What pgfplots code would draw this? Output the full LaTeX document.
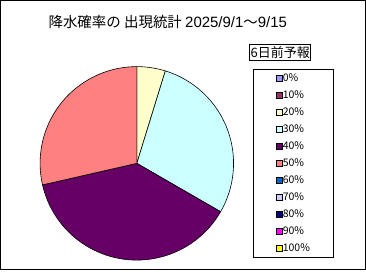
\documentclass[border=0pt]{standalone}
\usepackage{pgfplots}
\pgfplotsset{compat=1.18}
\usepackage{pgfplotstable}
\usepackage{fontspec}
\setmainfont{Noto Sans CJK JP}
\newfontfamily\latinfont{Liberation Sans}
\definecolor{pie0}{HTML}{9999FF}
\definecolor{pie1}{HTML}{993366}
\definecolor{pie2}{HTML}{FFFFCC}
\definecolor{pie3}{HTML}{CCFFFF}
\definecolor{pie4}{HTML}{660066}
\definecolor{pie5}{HTML}{FF8080}
\definecolor{pie6}{HTML}{0066CC}
\definecolor{pie7}{HTML}{CCCCFF}
\definecolor{pie8}{HTML}{000080}
\definecolor{pie9}{HTML}{FF00FF}
\definecolor{pie10}{HTML}{FFFF00}
\pgfplotstableread{
label value
0 0
10 0
20 1
30 6
40 8
50 6
60 0
70 0
80 0
90 0
100 0
}\datatable
\begin{document}
\begin{tikzpicture}
\begin{axis}[
  width=366pt, height=270pt, scale only axis,
  xmin=0, xmax=366, ymin=0, ymax=270,
  xtick=\empty, ytick=\empty,
  axis line style={black, line width=1pt},
  clip=false,
  legend style={at={(axis cs:253.3,201.7)}, anchor=north west, draw=black, line width=0.6pt,
    fill=white, font=\fontsize{10.5}{11}\selectfont, inner xsep=23pt, inner ysep=0.6pt,
    row sep=0pt, column sep=0pt,
    nodes={inner sep=0pt, minimum height=17.1pt},
    cells={anchor=west}},
  legend image code/.code={\draw[#1, line width=0.5pt] (0pt,-3pt) rectangle (6pt,3pt);},
]
\def\angleA{90}
\pgfplotstableforeachcolumnelement{value}\of\datatable\as\val{%
  \pgfmathsetmacro{\angleB}{\angleA - \val/21*360}%
  \ifdim\val pt>0pt
    \edef\temp{\noexpand\fill[pie\pgfplotstablerow, draw=black, line width=0.6pt] (axis cs:136.7,106.7) -- ++(\angleA:97pt) arc[start angle=\angleA, end angle=\angleB, radius=97pt] -- cycle;}%
    \temp
  \fi
  \global\let\angleA\angleB
}
\addlegendimage{fill=pie0, draw=black}\addlegendentry{0\%}
\addlegendimage{fill=pie1, draw=black}\addlegendentry{10\%}
\addlegendimage{fill=pie2, draw=black}\addlegendentry{20\%}
\addlegendimage{fill=pie3, draw=black}\addlegendentry{30\%}
\addlegendimage{fill=pie4, draw=black}\addlegendentry{40\%}
\addlegendimage{fill=pie5, draw=black}\addlegendentry{50\%}
\addlegendimage{fill=pie6, draw=black}\addlegendentry{60\%}
\addlegendimage{fill=pie7, draw=black}\addlegendentry{70\%}
\addlegendimage{fill=pie8, draw=black}\addlegendentry{80\%}
\addlegendimage{fill=pie9, draw=black}\addlegendentry{90\%}
\addlegendimage{fill=pie10, draw=black}\addlegendentry{100\%}
\node[font=\fontsize{14.5}{15}\selectfont, anchor=west, inner sep=0pt] at (axis cs:48,248) {降水確率の 出現統計 {\latinfont\fontsize{15}{15}\selectfont 2025/9/1}〜{\latinfont\fontsize{15}{15}\selectfont 9/15}};
\node[draw=black, line width=0.6pt, font=\fontsize{13}{13}\selectfont, inner xsep=1pt, inner ysep=2pt, anchor=center] at (axis cs:280.5,218) {6日前予報};
\end{axis}
\end{tikzpicture}
\end{document}
